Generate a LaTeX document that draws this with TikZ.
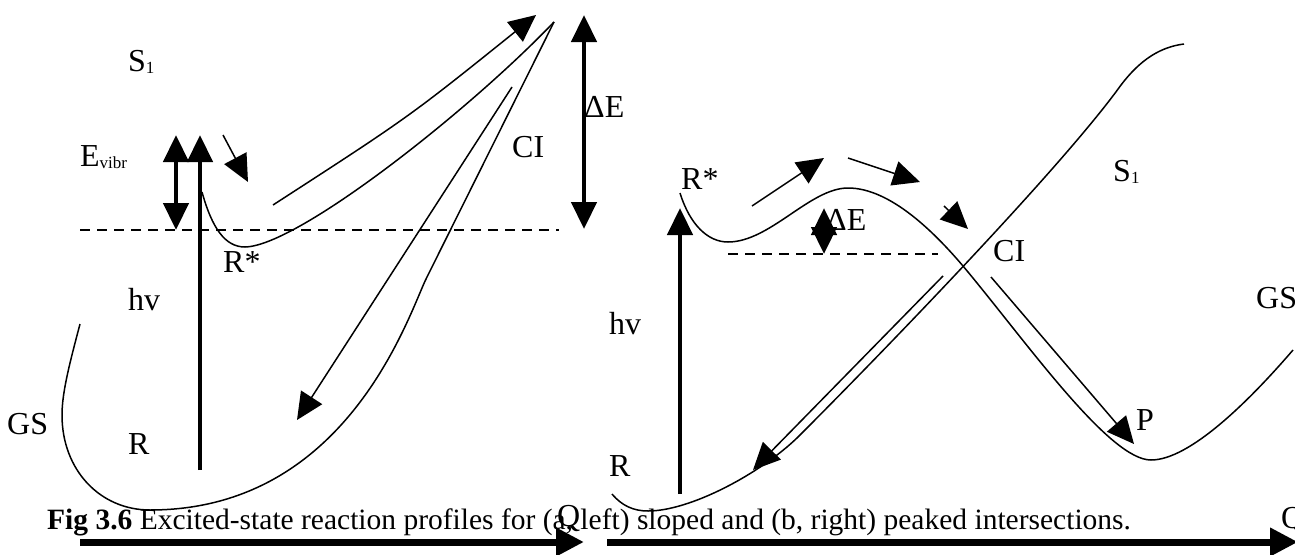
\documentclass[tikz,border=0pt]{standalone}
\usepackage{fontspec}
\setmainfont{Liberation Serif}
\usetikzlibrary{arrows.meta}
\newcommand{\smallsub}[1]{\raisebox{-2pt}{\fontsize{17}{17}\selectfont #1}}

\begin{document}
\begin{tikzpicture}[x=1pt,y=-1pt,
    lbl/.style={inner sep=0pt,anchor=base west,font=\fontsize{32}{36}\selectfont},
    pes/.style={line width=1.5pt},
    thinarrow/.style={line width=1.5pt,-{Triangle[length=27pt,width=25pt]}},
    fatarrow/.style={line width=4.5pt,-{Triangle[length=27pt,width=25pt]}},
    dblarrow/.style={line width=4.5pt,{Triangle[length=27pt,width=25pt]}-{Triangle[length=27pt,width=25pt]}},
    axisarrow/.style={line width=7pt,-{Triangle[length=28pt,width=27pt]}},
    level/.style={line width=1.5pt,dash pattern=on 10pt off 7pt}]
  \useasboundingbox (0,0) rectangle (1295,554);

  % (a) sloped intersection
  \draw[pes] (202,192) .. controls (212,228) and (225,247) .. (245,247)
    .. controls (298,246) and (470,110) .. (554,22);
  \draw[pes] (80,324) .. controls (70,362) and (62,392) .. (62,415)
    .. controls (62,470) and (100,510) .. (150,510)
    .. controls (350,510) and (410,310) .. (427,277) -- (554,22);
  \coordinate (lvlaS) at (80,230);  \coordinate (lvlaE) at (559,230);
  \draw[level] (lvlaS) -- (lvlaE);
  \coordinate (evtop) at (176,135); \coordinate (evbot) at (176,230);
  \draw[dblarrow] (evbot) -- (evtop);
  \coordinate (hvaS) at (200,470);  \coordinate (hvaE) at (200,135);
  \draw[fatarrow] (hvaS) -- (hvaE);
  \coordinate (relS) at (223,135);  \coordinate (relE) at (248,182);
  \draw[thinarrow] (relS) -- (relE);
  \coordinate (upS) at (273,205);   \coordinate (upE) at (536,15);
  \draw[thinarrow] (upS) .. controls (409,117) .. (upE);
  \coordinate (dnS) at (512,87);    \coordinate (dnE) at (297,420);
  \draw[thinarrow] (dnS) -- (dnE);
  \coordinate (dEtop) at (584,15);  \coordinate (dEbot) at (584,229);
  \draw[dblarrow] (dEbot) -- (dEtop);
  \coordinate (axaS) at (80,542);   \coordinate (axaE) at (584,542);
  \draw[axisarrow] (axaS) -- (axaE);

  \node[lbl] (s1a) at (128,71) {S\smallsub{1}};
  \node[lbl] (evib) at (80,166) {E\smallsub{vibr}};
  \node[lbl] (rstara) at (223,272) {R*};
  \node[lbl] (hva) at (128,310) {hv};
  \node[lbl] (gsa) at (7,434) {GS};
  \node[lbl] (ra) at (128,454) {R};
  \node[lbl] (cia) at (512,157) {CI};
  \node[lbl] (dEa) at (584,117) {ΔE};
  \node[lbl] (qa) at (557,526) {Q};

  % (b) peaked intersection
  \draw[pes] (680,193) .. controls (690,225) and (708,242) .. (728,242)
    .. controls (770,242) and (810,188) .. (848,188)
    .. controls (890,188) and (935,232) .. (968,272)
    .. controls (1030,347) and (1110,460) .. (1151,460)
    .. controls (1190,460) and (1250,400) .. (1293,350);
  \draw[pes] (612,494) .. controls (622,506) and (634,511) .. (648,511)
    .. controls (690,511) and (760,474) .. (798,437)
    .. controls (870,365) and (1060,170) .. (1121,85)
    .. controls (1140,60) and (1160,47) .. (1184,44);
  \coordinate (lvlbS) at (728,254); \coordinate (lvlbE) at (938,254);
  \draw[level] (lvlbS) -- (lvlbE);
  \coordinate (hvbS) at (680,494);  \coordinate (hvbE) at (680,208);
  \draw[fatarrow] (hvbS) -- (hvbE);
  \coordinate (dEbmid) at (824,231);
  \coordinate (dEbtop) at (824,208); \coordinate (dEbbot) at (824,254);
  \draw[fatarrow] (dEbmid) -- (dEbtop);
  \draw[fatarrow] (dEbmid) -- (dEbbot);
  \coordinate (a1S) at (752,206);   \coordinate (a1E) at (824,158);
  \coordinate (a2S) at (848,158);   \coordinate (a2E) at (920,182);
  \coordinate (a3S) at (944,206);   \coordinate (a3E) at (968,229);
  \coordinate (a4S) at (943,276);   \coordinate (a4E) at (753,470);
  \coordinate (apS) at (991,277);   \coordinate (apE) at (1134,444);
  \foreach \s/\e in {a1S/a1E,a2S/a2E,a3S/a3E,a4S/a4E,apS/apE}
    \draw[thinarrow] (\s) -- (\e);
  \coordinate (axbS) at (607,542);  \coordinate (axbE) at (1298,542);
  \draw[axisarrow] (axbS) -- (axbE);

  \node[lbl] (rstarb) at (681,189) {R*};
  \node[lbl] (dEb) at (826,230) {ΔE};
  \node[lbl] (cib) at (993,261) {CI};
  \node[lbl] (s1b) at (1113,181) {S\smallsub{1}};
  \node[lbl] (hvb) at (609,334) {hv};
  \node[lbl] (rb) at (609,476) {R};
  \node[lbl] (gsb) at (1256,308) {GS};
  \node[lbl] (pb) at (1136,430) {P};
  \node[lbl] (qb) at (1281,528) {Q};

  \node[inner sep=0pt,anchor=base west,font=\fontsize{29.5}{33}\selectfont] (caption) at (47,529)
    {\textbf{Fig 3.6} Excited-state reaction profiles for (a, left) sloped and (b, right) peaked intersections.};
\end{tikzpicture}
\end{document}
